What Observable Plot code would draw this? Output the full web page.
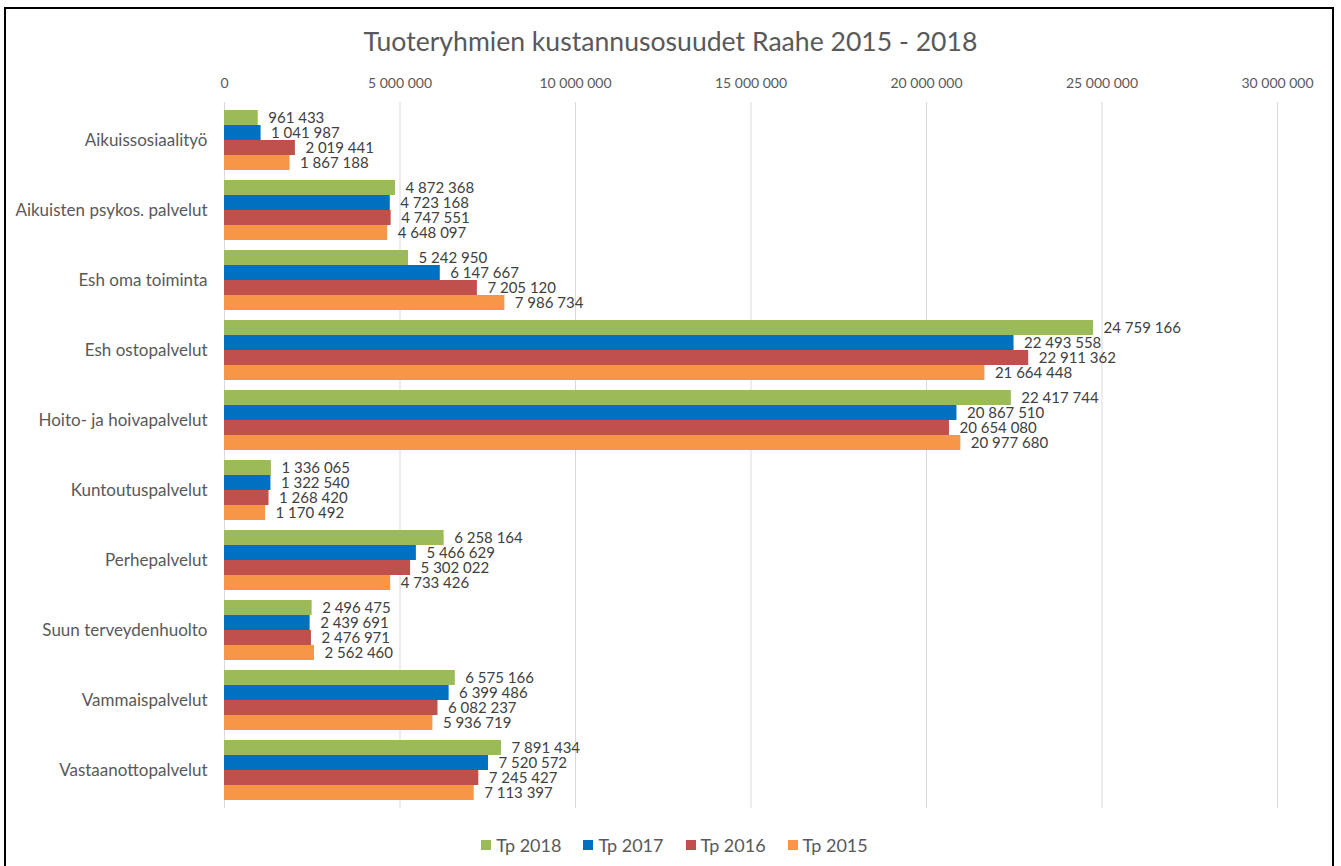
<!DOCTYPE html>
<html>
<head>
<meta charset="utf-8">
<script src="https://cdn.jsdelivr.net/npm/d3@7"></script>
<script src="https://cdn.jsdelivr.net/npm/@observablehq/plot@0.6"></script>
<style>
  html, body { margin: 0; padding: 0; background: #fff; }
  #wrap { position: relative; width: 1341px; height: 866px; overflow: hidden; font-family: Lato, "Open Sans", sans-serif; }
  #border { position: absolute; left: 4px; top: 7px; width: 1330px; height: 920px; border: 2px solid #000; box-sizing: border-box; }
  #title { position: absolute; top: 26px; left: 0; width: 1341px; text-align: center; font-size: 26.6px; line-height: 30px; color: #595959; }
  #chart { position: absolute; left: 0; top: 0; }
  #legend { position: absolute; top: 834px; left: 4px; width: 1341px; display: flex; justify-content: center; align-items: center; font-size: 18px; color: #595959; }
  .item { display: flex; align-items: center; margin: 0 11px; }
  .sw { width: 10px; height: 10px; margin-right: 5px; }
</style>
</head>
<body>
<div id="wrap">
  <div id="border"></div>
  <div id="title">Tuoteryhmien kustannusosuudet Raahe 2015 - 2018</div>
  <div id="chart"></div>
  <div id="legend"></div>
</div>
<script>
const categories = [
  "Aikuissosiaalityö",
  "Aikuisten psykos. palvelut",
  "Esh oma toiminta",
  "Esh ostopalvelut",
  "Hoito- ja hoivapalvelut",
  "Kuntoutuspalvelut",
  "Perhepalvelut",
  "Suun terveydenhuolto",
  "Vammaispalvelut",
  "Vastaanottopalvelut"
];
const seriesNames = ["Tp 2018", "Tp 2017", "Tp 2016", "Tp 2015"];
const seriesColors = ["#9BBB59", "#0070C0", "#C0504D", "#F79646"];
const tp2018 = [961433, 4872368, 5242950, 24759166, 22417744, 1336065, 6258164, 2496475, 6575166, 7891434];
const tp2017 = [1041987, 4723168, 6147667, 22493558, 20867510, 1322540, 5466629, 2439691, 6399486, 7520572];
const tp2016 = [2019441, 4747551, 7205120, 22911362, 20654080, 1268420, 5302022, 2476971, 6082237, 7245427];
const tp2015 = [1867188, 4648097, 7986734, 21664448, 20977680, 1170492, 4733426, 2562460, 5936719, 7113397];
const xTicks = [0, 5000000, 10000000, 15000000, 20000000, 25000000, 30000000];

const seriesValues = [tp2018, tp2017, tp2016, tp2015];
const table = [];
seriesNames.forEach((s, j) => categories.forEach((c, i) => table.push({category: c, series: s, value: seriesValues[j][i]})));

const fmt = d3.formatLocale({decimal: ",", thousands: " ", grouping: [3], currency: ["", ""]}).format(",d");

const W = 1341, H = 866, mT = 102, mB = 58, mL = 224, mR = 64;
const padIn = 0.15, padOut = 0.075;
const step = (H - mT - mB) / (categories.length - padIn + 2 * padOut);
const bw = step * (1 - padIn);
const sub = bw / 4;

const marks = [
  Plot.gridX({ticks: xTicks, stroke: "#d9d9d9", strokeOpacity: 1, strokeWidth: 1})
];
seriesNames.forEach((s, j) => {
  const d = table.filter(r => r.series === s);
  marks.push(Plot.barX(d, {x: "value", y: "category", fill: seriesColors[j], insetTop: j * sub, insetBottom: (3 - j) * sub}));
  marks.push(Plot.text(d, {x: "value", y: "category", text: r => fmt(r.value), textAnchor: "start", dx: 10, dy: (j + 0.5) * sub - bw / 2, fill: "#404040", fontSize: 15}));
});
marks.push(Plot.axisX({anchor: "top", ticks: xTicks, tickSize: 0, tickPadding: 15, tickFormat: fmt, fontSize: 14, color: "#595959", label: null, letterSpacing: "-0.3px"}));
marks.push(Plot.axisY({anchor: "left", tickSize: 0, tickPadding: 17, fontSize: 17, color: "#595959", label: null}));

const chart = Plot.plot({
  width: W, height: H,
  marginTop: mT, marginBottom: mB, marginLeft: mL, marginRight: mR,
  style: {fontFamily: "Lato, 'Open Sans', sans-serif", background: "transparent"},
  x: {domain: [0, 30000000], axis: null},
  y: {domain: categories, paddingInner: padIn, paddingOuter: padOut, axis: null},
  marks
});
document.getElementById("chart").appendChild(chart);

const legend = document.getElementById("legend");
seriesNames.forEach((s, j) => {
  const it = document.createElement("div");
  it.className = "item";
  const sw = document.createElement("div");
  sw.className = "sw";
  sw.style.background = seriesColors[j];
  const t = document.createElement("span");
  t.textContent = s;
  it.appendChild(sw); it.appendChild(t);
  legend.appendChild(it);
});
</script>
</body>
</html>
